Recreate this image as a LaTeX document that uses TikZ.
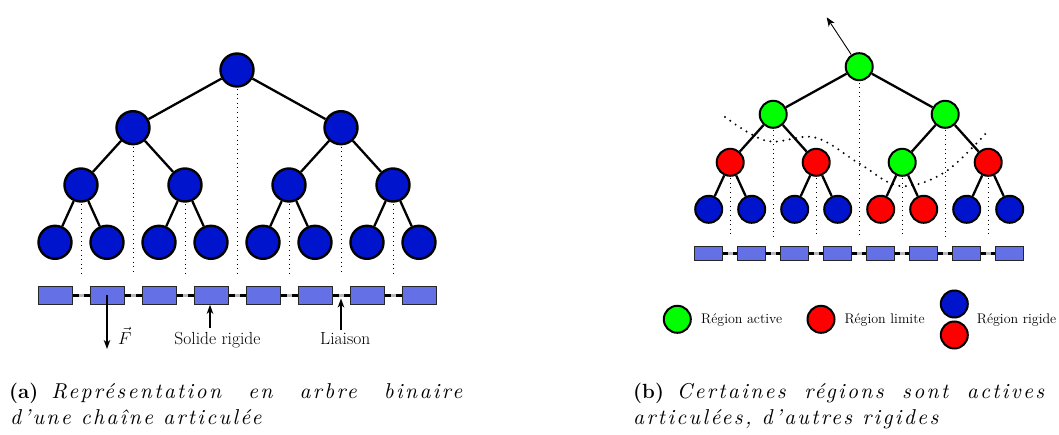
\documentclass[tikz,border=0pt]{standalone}
\usepackage{fontspec}
\usetikzlibrary{arrows.meta}
\definecolor{nblue}{RGB}{0,20,205}
\definecolor{ngreen}{RGB}{0,255,0}
\definecolor{nred}{RGB}{255,0,0}
\definecolor{rectblue}{RGB}{100,112,230}
\definecolor{jgray}{RGB}{185,185,185}
\newfontfamily\capitfont{lmroman10-italic.otf}[LetterSpace=11]
\newcommand{\capit}[1]{{\fontsize{21.5}{25}\capitfont #1}}
\tikzset{
  bignode/.style={circle, draw=black, line width=2.4pt, minimum size=33pt, inner sep=0pt, fill=nblue},
  smallnode/.style={circle, draw=black, line width=2pt, minimum size=27pt, inner sep=0pt},
  edgeline/.style={line width=2.3pt},
  vdots/.style={line width=1pt, dash pattern=on 1pt off 3.6pt},
  curvedots/.style={line width=2.2pt, dash pattern=on 0pt off 6.5pt, line cap=round},
  segboxL/.style={draw=black!85, fill=rectblue, line width=1pt, inner sep=0pt, minimum width=34pt, minimum height=18pt},
  segboxR/.style={draw=black!85, fill=rectblue, line width=1pt, inner sep=0pt, minimum width=27.5pt, minimum height=14.5pt},
  link/.style={line width=3pt},
  joint/.style={fill=jgray, inner sep=0pt, minimum width=5pt, minimum height=3pt},
  ptr/.style={line width=1.3pt, -{Stealth[length=9pt, width=6.5pt, inset=2.5pt]}},
  lab/.style={font=\fontsize{17.5}{20}\selectfont, inner sep=0pt},
  leg/.style={font=\fontsize{14}{17}\selectfont, inner sep=0pt},
  captext/.style={font=\fontsize{20.5}{25}\selectfont, inner sep=0pt},
}
\begin{document}
\begin{tikzpicture}[x=1pt,y=-1pt]
\useasboundingbox (0,0) rectangle (1059,435);

% ---------------- left tree ----------------
\foreach \i in {1,...,8} {
  \pgfmathsetmacro{\xx}{55+52*(\i-1)}
  \node[segboxL] (L\i) at (\xx,295.3) {};
}
\foreach \a/\b in {1/2,2/3,3/4,4/5,5/6,6/7,7/8} {
  \draw[link] (L\a.east) -- node[joint] {} (L\b.west);
}
% dotted verticals
\foreach \x/\y in {81/185,185/185,289/185,393/185,133/127.7,341/127.7,237/70} {
  \draw[vdots] (\x,\y+19) -- (\x,275);
}
% edges
\node[bignode] (A) at (237,70) {};
\node[bignode] (B1) at (133,127.7) {};
\node[bignode] (B2) at (341,127.7) {};
\node[bignode] (C1) at (81,185) {};
\node[bignode] (C2) at (185,185) {};
\node[bignode] (C3) at (289,185) {};
\node[bignode] (C4) at (393,185) {};
\foreach \i in {1,...,8} {
  \pgfmathsetmacro{\xx}{55+52*(\i-1)}
  \node[bignode] (D\i) at (\xx,242.3) {};
}
\draw[edgeline] (A) -- (B1) (A) -- (B2)
  (B1) -- (C1) (B1) -- (C2) (B2) -- (C3) (B2) -- (C4)
  (C1) -- (D1) (C1) -- (D2) (C2) -- (D3) (C2) -- (D4)
  (C3) -- (D5) (C3) -- (D6) (C4) -- (D7) (C4) -- (D8);

% annotations
\coordinate (Ftip) at (107,349);
\draw[ptr] (L2.center) -- (Ftip);
\node[lab, anchor=base west] (Flab) at (118,344) {$\vec{F}$};
\node[lab, anchor=base] (Slab) at (217.5,344) {Solide rigide};
\coordinate (Stail) at (210,328);
\draw[ptr] (Stail) -- (L4.south -| Stail);
\node[lab, anchor=base] (Llab) at (345.3,344) {Liaison};
\coordinate (Ltail) at (341,330);
\coordinate (Ltip) at (341,298.5);
\draw[ptr] (Ltail) -- (Ltip);

% ---------------- right tree ----------------
\foreach \i in {1,...,8} {
  \pgfmathsetmacro{\xx}{708.7+43*(\i-1)}
  \node[segboxR] (R\i) at (\xx,253.3) {};
}
\foreach \a/\b in {1/2,2/3,3/4,4/5,5/6,6/7,7/8} {
  \draw[link] (R\a.east) -- node[joint] {} (R\b.west);
}
\foreach \x/\y in {730.2/162.3,816.2/162.3,902.2/162.3,988.2/162.3,773.2/114.3,945.2/114.3,859.2/66.7} {
  \draw[vdots] (\x,\y+16) -- (\x,237);
}
\node[smallnode, fill=ngreen] (RA) at (859.2,66.7) {};
\node[smallnode, fill=ngreen] (RB1) at (773.2,114.3) {};
\node[smallnode, fill=ngreen] (RB2) at (945.2,114.3) {};
\node[smallnode, fill=nred] (RC1) at (730.2,162.3) {};
\node[smallnode, fill=nred] (RC2) at (816.2,162.3) {};
\node[smallnode, fill=ngreen] (RC3) at (902.2,162.3) {};
\node[smallnode, fill=nred] (RC4) at (988.2,162.3) {};
\foreach \i/\c in {1/nblue,2/nblue,3/nblue,4/nblue,5/nred,6/nred,7/nblue,8/nblue} {
  \pgfmathsetmacro{\xx}{708.7+43*(\i-1)}
  \node[smallnode, fill=\c] (RD\i) at (\xx,209.3) {};
}
\draw[edgeline] (RA) -- (RB1) (RA) -- (RB2)
  (RB1) -- (RC1) (RB1) -- (RC2) (RB2) -- (RC3) (RB2) -- (RC4)
  (RC1) -- (RD1) (RC1) -- (RD2) (RC2) -- (RD3) (RC2) -- (RD4)
  (RC3) -- (RD5) (RC3) -- (RD6) (RC4) -- (RD7) (RC4) -- (RD8);
\coordinate (Rtip) at (826.7,17.3);
\draw[line width=0.9pt, -{Stealth[length=9pt, width=7pt, inset=2.5pt]}] (RA) -- (Rtip);
% boundary curve
\draw[curvedots] plot[smooth, tension=0.6] coordinates
  {(725,117) (767,141) (815,137.5) (860,164) (900,186) (945,172) (988,131)};

% legend
\node[smallnode, fill=ngreen] (G1) at (677.3,319.3) {};
\node[leg, anchor=base west] (G1t) at (701,323.5) {Région active};
\node[smallnode, fill=nred] (G2) at (821,319.3) {};
\node[leg, anchor=base west] (G2t) at (844.3,323.5) {Région limite};
\node[smallnode, fill=nblue] (G3a) at (954.3,304) {};
\node[smallnode, fill=nred] (G3b) at (954.3,335) {};
\node[leg, anchor=base west] (G3t) at (976.7,323.5) {Région rigide};

% captions
\node[captext, anchor=base west] (capA1) at (9,398.7)
  {\makebox[453pt][s]{\textbf{(a)}\hspace{13pt}\capit{Représentation en arbre binaire}}};
\node[captext, anchor=base west] (capA2) at (10,424.7) {\capit{d’une chaîne articulée}};
\node[captext, anchor=base west] (capB1) at (633,398.7)
  {\makebox[411pt][s]{\textbf{(b)}\hspace{13pt}\capit{Certaines régions sont actives}}};
\node[captext, anchor=base west] (capB2) at (633,424.7) {\capit{articulées, d’autres rigides}};
\end{tikzpicture}
\end{document}
